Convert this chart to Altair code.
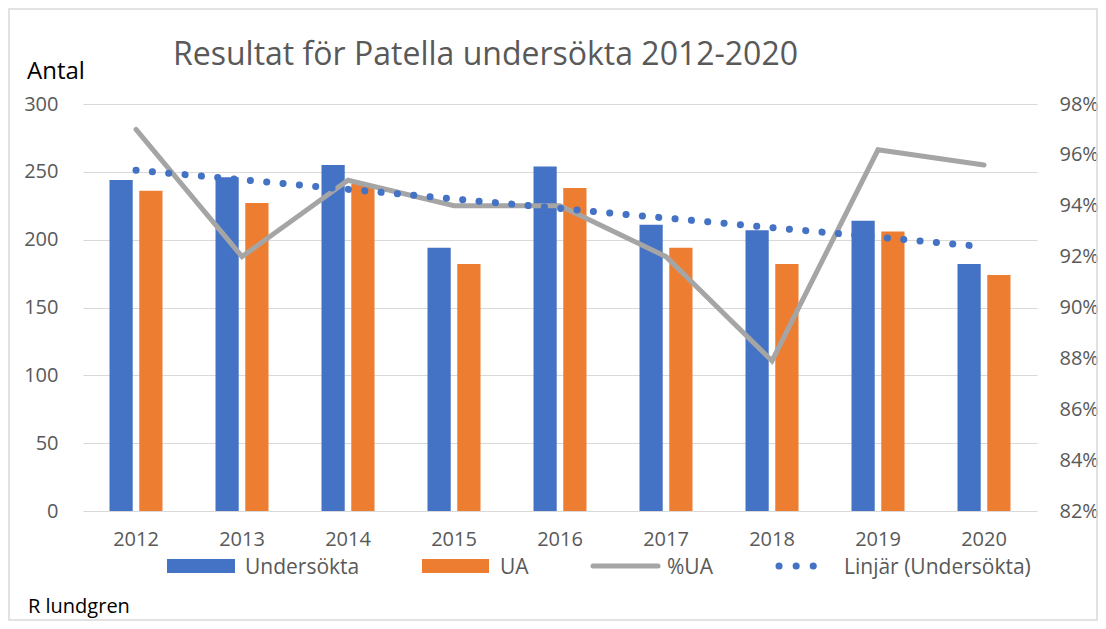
import altair as alt
import pandas as pd

# ---- data ----
years = [2012, 2013, 2014, 2015, 2016, 2017, 2018, 2019, 2020]
undersokta = [244, 246, 255, 194, 254, 211, 207, 214, 182]
ua = [236, 227, 241, 182, 238, 194, 182, 206, 174]
pct_ua = [97.0, 92.0, 95.0, 94.0, 94.0, 92.0, 87.9, 96.2, 95.6]

series = ["Undersökta", "UA"]
series_colors = ["#4472C4", "#ED7D31"]
left_ticks = [0, 50, 100, 150, 200, 250, 300]
right_ticks = [0.82, 0.84, 0.86, 0.88, 0.90, 0.92, 0.94, 0.96, 0.98]

title_text = "Resultat för Patella undersökta 2012-2020"
left_axis_title = "Antal"
footer_text = "R lundgren"
legend_labels = ["Undersökta", "UA", "%UA", "Linjär (Undersökta)"]

FONT = "Open Sans"
GRAY_TXT = "#595959"

df = pd.DataFrame({
    "Year": years,
    "Undersökta": undersokta,
    "UA": ua,
    "PctUA": [p / 100 for p in pct_ua],
})

base = alt.Chart(df)

x_enc = alt.X(
    "Year:O",
    scale=alt.Scale(paddingInner=0.5, paddingOuter=0.25),
    axis=alt.Axis(title=None, labelAngle=0, domain=False, ticks=False,
                  labelFont=FONT, labelFontSize=20, labelColor=GRAY_TXT,
                  labelPadding=18),
)

bars = base.transform_fold(series, as_=["Serie", "Antal"]).mark_bar().encode(
    x=x_enc,
    xOffset=alt.XOffset("Serie:N", sort=series,
                        scale=alt.Scale(domain=series, paddingInner=0.22)),
    y=alt.Y("Antal:Q",
            scale=alt.Scale(domain=[0, 300], nice=False),
            axis=alt.Axis(title=None, values=left_ticks, grid=True,
                          gridColor="#D9D9D9", gridWidth=1.2, domain=False,
                          ticks=False, labelFont=FONT, labelFontSize=20,
                          labelColor=GRAY_TXT, labelPadding=25)),
    color=alt.Color("Serie:N", sort=series,
                    scale=alt.Scale(domain=series, range=series_colors),
                    legend=None),
)

pct_line = base.mark_line(color="#A5A5A5", strokeWidth=5, strokeCap="round",
                          strokeJoin="miter").encode(
    x=x_enc,
    y=alt.Y("PctUA:Q",
            scale=alt.Scale(domain=[0.82, 0.98], nice=False, zero=False),
            axis=alt.Axis(orient="right", title=None, values=right_ticks,
                          format=".0%", grid=False, domain=False, ticks=False,
                          labelFont=FONT, labelFontSize=20,
                          labelColor=GRAY_TXT, labelPadding=22)),
)

trend = base.transform_regression("Year", "Undersökta").mark_line(
    color="#4472C4", strokeWidth=7, strokeDash=[0.1, 16.3], strokeCap="round"
).encode(
    x=x_enc,
    y=alt.Y("Undersökta:Q", scale=alt.Scale(domain=[0, 300], nice=False),
            axis=None),
)

one = alt.Data(values=[{}])


def text_layer(txt, x, y, size, color, align="left"):
    return alt.Chart(one).mark_text(
        text=txt, align=align, baseline="alphabetic", font=FONT,
        fontSize=size, color=color
    ).encode(x=alt.value(x), y=alt.value(y))


title = text_layer(title_text, 90, -39, 32, GRAY_TXT)
antal = text_layer(left_axis_title, -56, -25, 24, "#000000")
footer = text_layer(footer_text, -55, 509, 20, "#000000")

# ---- legend (decoration) ----
leg_y = 462
leg_sw1 = alt.Chart(one).mark_rect(color=series_colors[0]).encode(
    x=alt.value(84), x2=alt.value(152), y=alt.value(455), y2=alt.value(469))
leg_sw2 = alt.Chart(one).mark_rect(color=series_colors[1]).encode(
    x=alt.value(339), x2=alt.value(406), y=alt.value(455), y2=alt.value(469))
leg_line = alt.Chart(one).mark_rule(color="#A5A5A5", strokeWidth=5,
                                    strokeCap="round").encode(
    x=alt.value(510), x2=alt.value(575), y=alt.value(leg_y))
leg_dots = alt.Chart(one).mark_rule(color="#4472C4", strokeWidth=7,
                                    strokeDash=[0.1, 17],
                                    strokeCap="round").encode(
    x=alt.value(696), x2=alt.value(747.2), y=alt.value(leg_y))
leg_t1 = text_layer(legend_labels[0], 162, 470, 21, GRAY_TXT)
leg_t2 = text_layer(legend_labels[1], 417, 470, 21, GRAY_TXT)
leg_t3 = text_layer(legend_labels[2], 584, 470, 21, GRAY_TXT)
leg_t4 = text_layer(legend_labels[3], 761, 470, 21, GRAY_TXT)

frame = alt.Chart(one).mark_rect(fill="transparent", stroke="#D9D9D9",
                                 strokeWidth=1.5).encode(
    x=alt.value(-74), x2=alt.value(1014), y=alt.value(-95), y2=alt.value(516))

chart = alt.layer(
    frame, bars, pct_line, trend, title, antal, footer,
    leg_sw1, leg_sw2, leg_line, leg_dots, leg_t1, leg_t2, leg_t3, leg_t4,
).resolve_scale(
    y="independent"
).properties(
    width=954, height=407,
    autosize=alt.AutoSizeParams(type="none"),
    padding={"left": 75, "top": 96, "right": 61, "bottom": 110},
    background="white",
).configure_view(stroke=None)

chart.save("out.html", embed_options={"renderer": "svg", "actions": False})
